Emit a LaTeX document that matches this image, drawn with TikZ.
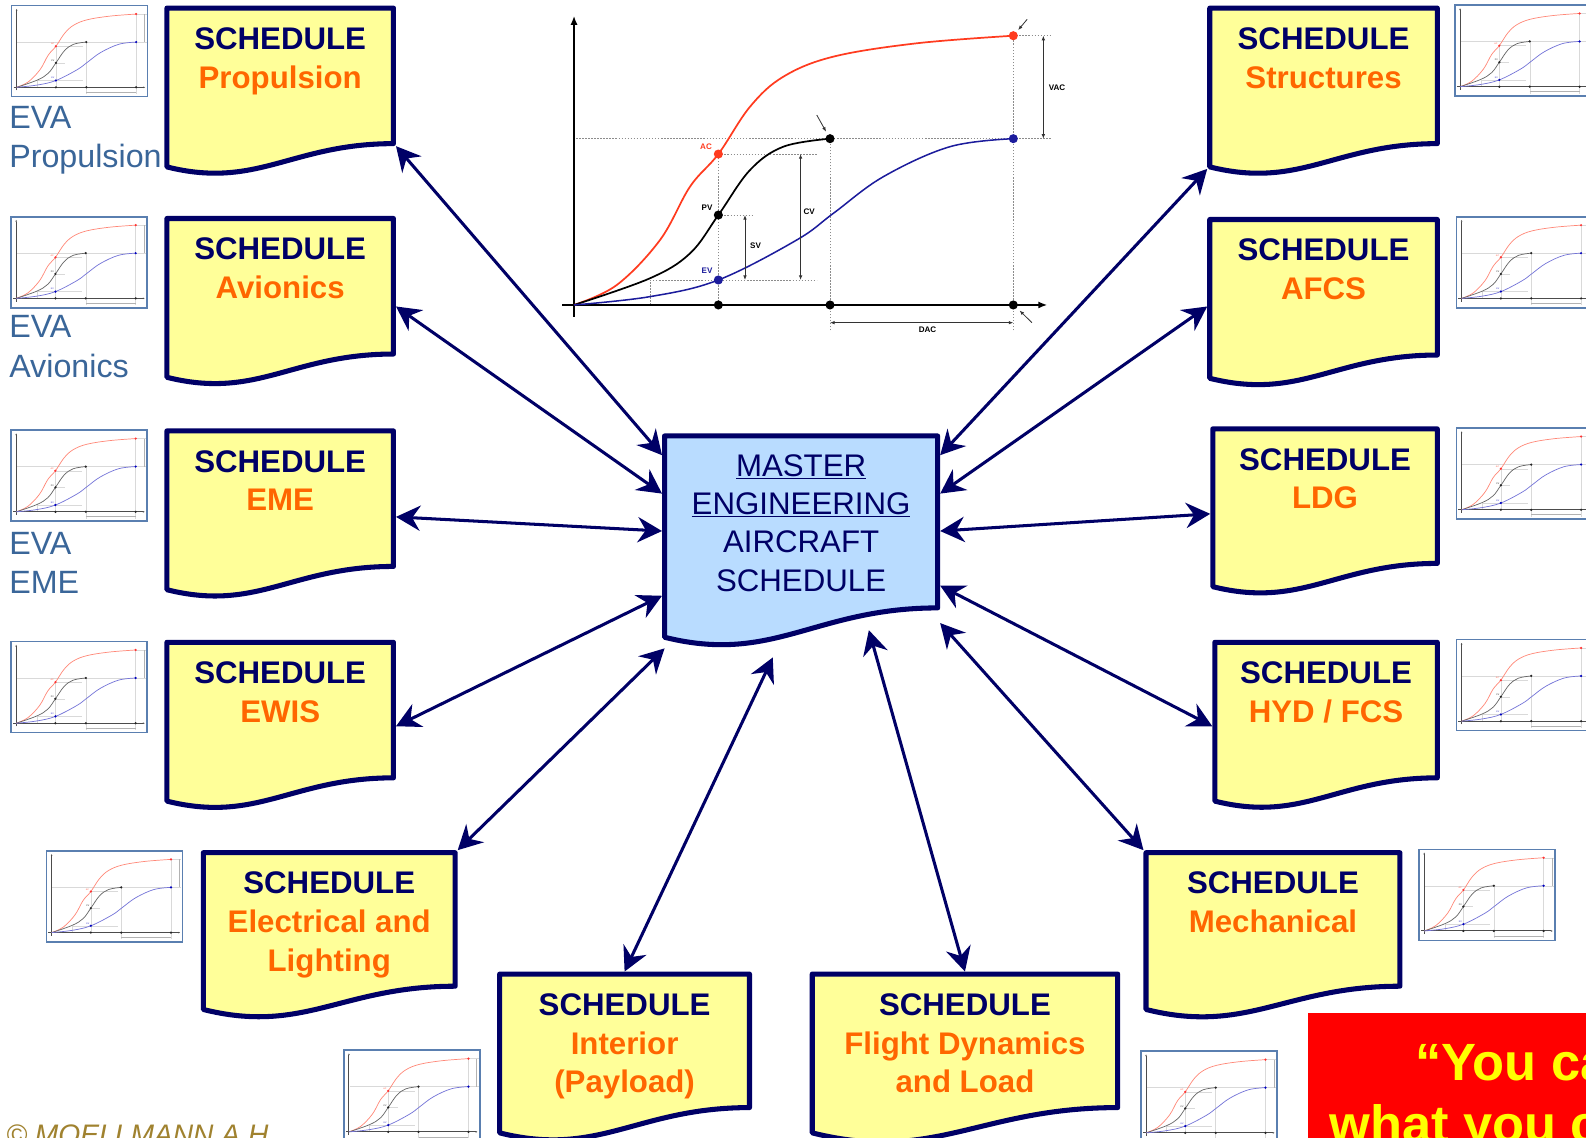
\documentclass[tikz,border=0pt]{standalone}
\usepackage{fontspec}
\setmainfont{Liberation Sans}
\usetikzlibrary{arrows.meta}

\definecolor{navy}{HTML}{000066}
\definecolor{docyellow}{HTML}{FFFF99}
\definecolor{docorange}{HTML}{FF6600}
\definecolor{masterblue}{HTML}{B9DCFF}
\definecolor{evablue}{HTML}{3A6699}
\definecolor{copygold}{HTML}{A0822F}
\definecolor{frameblue}{HTML}{5A7FB0}
\definecolor{chred}{HTML}{FF3B1F}
\definecolor{chblue}{HTML}{1C1C9C}
\definecolor{thred}{HTML}{FF8878}
\definecolor{thblue}{HTML}{7474D8}
\definecolor{quotered}{HTML}{FF0000}
\definecolor{quoteyellow}{HTML}{FFFF00}

% the full-size chart carries the variance dimensions and their labels
\newif\ifevfull

\tikzset{
  docframe/.style={draw=navy, line width=5bp, line join=round},
  docarea/.style={rectangle, draw=none, inner sep=0pt, outer sep=2.5bp, anchor=north west},
  doctext/.style={anchor=north, inner sep=0pt, align=center, text=docorange,
    font=\fontsize{31}{38.5}\selectfont\bfseries},
  mastertext/.style={anchor=north, inner sep=0pt, align=center, text=navy,
    font=\fontsize{31}{38}\selectfont},
  evatext/.style={anchor=north west, inner sep=0pt, align=left, text=evablue,
    font=\fontsize{32}{39}\selectfont},
  biarrow/.style={draw=navy, line width=3bp,
    {Stealth[length=24bp,width=25bp,inset=8bp]}-{Stealth[length=24bp,width=25bp,inset=8bp]}},
  thumbframe/.style={draw=frameblue, line width=1.5bp, fill=white},
  quotetext/.style={inner sep=0pt, anchor=base west, text=quoteyellow,
    font=\fontsize{52}{60}\selectfont\bfseries},
  % full-size earned value chart
  main look/.style={
    ev red/.style={line width=1.7bp, draw=chred},
    ev black/.style={line width=1.7bp, draw=black},
    ev blue/.style={line width=1.5bp, draw=chblue},
    ev axis/.style={line width=2.4bp, draw=black, -{Latex[length=9bp,width=7bp]}},
    ev guide/.style={line width=0.7bp, draw=black!45, dash pattern=on 1.5bp off 1.5bp},
    ev dim/.style={line width=0.8bp, draw=black!80,
      {Latex[length=4.5bp,width=3.5bp]}-{Latex[length=4.5bp,width=3.5bp]}},
    ev pointer/.style={line width=0.8bp, draw=black!80, -{Latex[length=4.5bp,width=3.5bp]}},
    ev reddot/.style={fill=chred},
    ev blackdot/.style={fill=black},
    ev bluedot/.style={fill=chblue},
    ev label/.style={inner sep=0pt, font=\fontsize{8}{8}\selectfont\bfseries},
    ev redtext/.style={text=chred},
    ev blacktext/.style={text=black},
    ev bluetext/.style={text=chblue},
  },
  % small copies of the chart
  thumb look/.style={
    ev red/.style={line width=0.7bp, draw=thred},
    ev black/.style={line width=0.7bp, draw=black!60},
    ev blue/.style={line width=0.7bp, draw=thblue},
    ev axis/.style={line width=1bp, draw=black!70, -{Latex[length=2bp,width=1.6bp]}},
    ev guide/.style={line width=0.35bp, draw=black!15},
    ev dim/.style={line width=0.35bp, draw=black!30},
    ev pointer/.style={line width=0.3bp, draw=black!15},
    ev reddot/.style={fill=red!80},
    ev blackdot/.style={fill=black!85},
    ev bluedot/.style={fill=blue!75!black},
    ev label/.style={inner sep=0pt, font=\fontsize{8}{8}\selectfont\bfseries},
    ev redtext/.style={text=thred},
    ev blacktext/.style={text=black!60},
    ev bluetext/.style={text=thblue},
  },
  pics/evchart/.style={code={
    % dotted guide lines
    \draw[ev guide] (2,164.4) -- (472,164.4);
    \draw[ev guide] (434.3,266.2) -- (472,266.2);
    \draw[ev guide] (142.7,149.2) -- (240,149.2);
    \draw[ev guide] (142.7,88.9) -- (177,88.9);
    \draw[ev guide] (75,24.7) -- (240,24.7);
    \draw[ev guide] (75,0) -- (75,24.7);
    \draw[ev guide] (142.7,0) -- (142.7,149.2);
    \draw[ev guide] (253.1,-25) -- (253.1,164.4);
    \draw[ev guide] (434.3,-25) -- (434.3,266.2);
    % axes
    \draw[ev axis] (-11.5,0) -- (468,0);
    \draw[ev axis] (0,-11.5) -- (0,286);
    % actual cost, planned value, earned value
    \draw[ev red] plot[smooth, tension=0.6] coordinates {(0,0) (42.2,19.7) (85,64.2) (114.7,117)
      (142.7,149.2) (174,196) (207,225.7) (256.4,245.5) (338.8,258.7) (434.3,266.2)};
    \draw[ev black] plot[smooth, tension=0.6] coordinates {(0,0) (74.9,26.3) (114.7,51)
      (142.7,88.9) (174,133.4) (207,156.5) (253.1,164.4)};
    \draw[ev blue] plot[smooth, tension=0.6] coordinates {(0,0) (74.9,8.2) (142.7,24.7)
      (220.1,64.2) (256.4,90.6) (305.8,126.8) (371.7,156.5) (434.3,164.4)};
    % dimension arrows
    \draw[ev dim] (464,266.2) -- (464,164.4);
    \draw[ev dim] (253.1,-17.5) -- (434.3,-17.5);
    \ifevfull
      \draw[ev dim] (224,149.2) -- (224,24.7);
      \draw[ev dim] (169,88.9) -- (169,24.7);
      % pointers
      \draw[ev pointer] (240,187.8) -- (249.2,171.3);
      \draw[ev pointer] (448,282.4) -- (439.1,271.8);
      \draw[ev pointer] (452.7,-17.5) -- (440.5,-5.5);
    \fi
    % points
    \fill[ev reddot] (142.7,149.2) circle[radius=4.5];
    \fill[ev reddot] (434.3,266.2) circle[radius=4.5];
    \fill[ev blackdot] (142.7,88.9) circle[radius=4.5];
    \fill[ev blackdot] (253.1,164.4) circle[radius=4.5];
    \fill[ev blackdot] (142.7,0) circle[radius=4.5];
    \fill[ev blackdot] (253.1,0) circle[radius=4.5];
    \fill[ev blackdot] (434.3,0) circle[radius=4.5];
    \fill[ev bluedot] (142.7,24.7) circle[radius=4.5];
    \fill[ev bluedot] (434.3,164.4) circle[radius=4.5];
    % labels
    \node[ev label, ev redtext] (-ac) at (130.5,156.5) {AC};
    \node[ev label, ev blacktext] (-pv) at (131.5,96.5) {PV};
    \node[ev label, ev bluetext] (-ev) at (131.5,33.5) {EV};
    \ifevfull
      \node[ev label, ev blacktext] (-sv) at (179.5,58.5) {SV};
      \node[ev label, ev blacktext] (-cv) at (232.5,92.5) {CV};
      \node[ev label, ev blacktext] (-vac) at (477.5,214.5) {VAC};
      \node[ev label, ev blacktext] (-dac) at (349.5,-24) {DAC};
    \fi
  }},
}

% document symbol: name, left, top, right, right-bottom, left-bottom, fill
\newcommand{\docshape}[7]{%
  \filldraw[docframe, fill=#7] (#2,#3) -- (#4,#3) -- (#4,#5)
    .. controls ({#4-0.45*(#4-#2)},#5) and ({#2+0.4*(#4-#2)},{#6+0.1*(#4-#2)}) .. (#2,#6) -- cycle;
  \node[docarea, minimum width={(#4-#2)*1bp}, minimum height={(#5-#3)*1bp}]
    (#1) at ({#2-2.5},{#3-2.5}) {};
}
% schedule document: name, left, top, right, right-bottom, left-bottom, subject
\newcommand{\schedoc}[7]{%
  \docshape{#1}{#2}{#3}{#4}{#5}{#6}{docyellow}
  \node[doctext] (#1-text) at ({(#2+#4)/2},{#3+19})
    {\textcolor{navy}{SCHEDULE}\\#7};
}
% small earned value chart in a frame: name, origin x, origin y
\newcommand{\evthumb}[3]{%
  \begin{scope}[shift={(#2,#3)}, x={(1bp,0)}, y={(0,1bp)}, scale=0.272, transform shape, thumb look]
    \draw[thumbframe] (-18.4,-34.2) rectangle (476,296.7);
    \pic (#1) {evchart};
  \end{scope}%
}

\begin{document}
\begin{tikzpicture}[x=1bp, y=-1bp]
  \fill[white] (0,0) rectangle (1568,1125);
  \useasboundingbox (0,0) rectangle (1568,1125);

  % small charts beside the schedules
  \evthumb{thprop}{16.5}{86.3}
  \evthumb{thavio}{16}{295}
  \evthumb{theme}{16}{506}
  \evthumb{thewis}{16}{715}
  \evthumb{thelec}{51}{922}
  \evthumb{thinter}{345}{1119}
  \evthumb{thfdl}{1133}{1120}
  \evthumb{thmech}{1408}{920.4}
  \evthumb{thstruct}{1443.5}{85.7}
  \evthumb{thafcs}{1445}{295}
  \evthumb{thldg}{1445}{504}
  \evthumb{thhyd}{1445}{713}

  % earned value labels
  \node[evatext] (eva-prop) at (9,105) {EVA\\Propulsion};
  \node[evatext] (eva-avio) at (9,312) {EVA\\Avionics};
  \node[evatext] (eva-eme) at (9,526) {EVA\\EME};

  % schedules
  \schedoc{prop}{165}{8}{389}{142}{165}{Propulsion}
  \schedoc{avio}{165}{216}{389}{350}{373}{Avionics}
  \schedoc{eme}{165}{426}{389}{560}{583}{EME}
  \schedoc{ewis}{165}{635}{389}{769}{792}{EWIS}
  \schedoc{elec}{201}{843}{450}{975}{998}{Electrical and\\Lighting}
  \schedoc{inter}{494}{963}{741}{1095}{1120}{Interior\\(Payload)}
  \schedoc{fdl}{803}{963}{1105}{1095}{1120}{Flight Dynamics\\and Load}
  \schedoc{mech}{1133}{843}{1384}{975}{998}{Mechanical}
  \schedoc{struct}{1196}{8}{1421}{142}{165}{Structures}
  \schedoc{afcs}{1196}{217}{1421}{351}{374}{AFCS}
  \schedoc{ldg}{1199}{424}{1421}{557}{580}{LDG}
  \schedoc{hyd}{1201}{635}{1421}{769}{792}{HYD / FCS}

  % master schedule
  \docshape{master}{657}{431}{927}{601}{630}{masterblue}
  \node[mastertext] (master-text) at (792,449)
    {\underline{MASTER}\\\underline{ENGINEERING}\\AIRCRAFT\\SCHEDULE};

  % links between the master schedule and each schedule
  \draw[biarrow] (prop.south east) -- ([yshift=-21.5bp]master.north west);
  \draw[biarrow] ([yshift=-89.5bp]avio.north east) -- ([yshift=-59.5bp]master.north west);
  \draw[biarrow] ([yshift=-87.5bp]eme.north east) -- ([yshift=-96.5bp]master.north west);
  \draw[biarrow] ([yshift=-85.5bp]ewis.north east) -- ([yshift=-160.5bp]master.north west);
  \draw[biarrow] (elec.north east) -- ([xshift=2.5bp,yshift=-37.5bp]master.south west);
  \draw[biarrow] (inter.north) -- ([xshift=-28bp,yshift=-46.5bp]master.south);
  \draw[biarrow] (fdl.north) -- ([xshift=67bp,yshift=-19.5bp]master.south);
  \draw[biarrow] (mech.north west) -- ([yshift=-12.5bp]master.south east);
  \draw[biarrow] ([yshift=-85.5bp]hyd.north west) -- ([yshift=-150.5bp]master.north east);
  \draw[biarrow] ([yshift=-86.5bp]ldg.north west) -- ([yshift=-96.5bp]master.north east);
  \draw[biarrow] ([yshift=-88.5bp]afcs.north west) -- ([yshift=-59.5bp]master.north east);
  \draw[biarrow] ([yshift=-22.5bp]struct.south west) -- ([yshift=-21.5bp]master.north east);

  % earned value chart
  \begin{scope}[shift={(567.5,301.5)}, x={(1bp,0)}, y={(0,1bp)}, main look]
    \evfulltrue
    \pic (ev) {evchart};
  \end{scope}

  % quotation box
  \fill[quotered] (1293,1001) rectangle (1568,1125);
  \node[quotetext] (quote-a) at (1399,1068) {“You ca};
  \node[quotetext] (quote-b) at (1314,1130) {what you c};

  % copyright
  \node[inner sep=0pt, anchor=base west, text=copygold,
    font=\fontsize{28}{28}\selectfont\itshape] (copyright) at (6,1131) {© MOELLMANN A.H};
\end{tikzpicture}
\end{document}
